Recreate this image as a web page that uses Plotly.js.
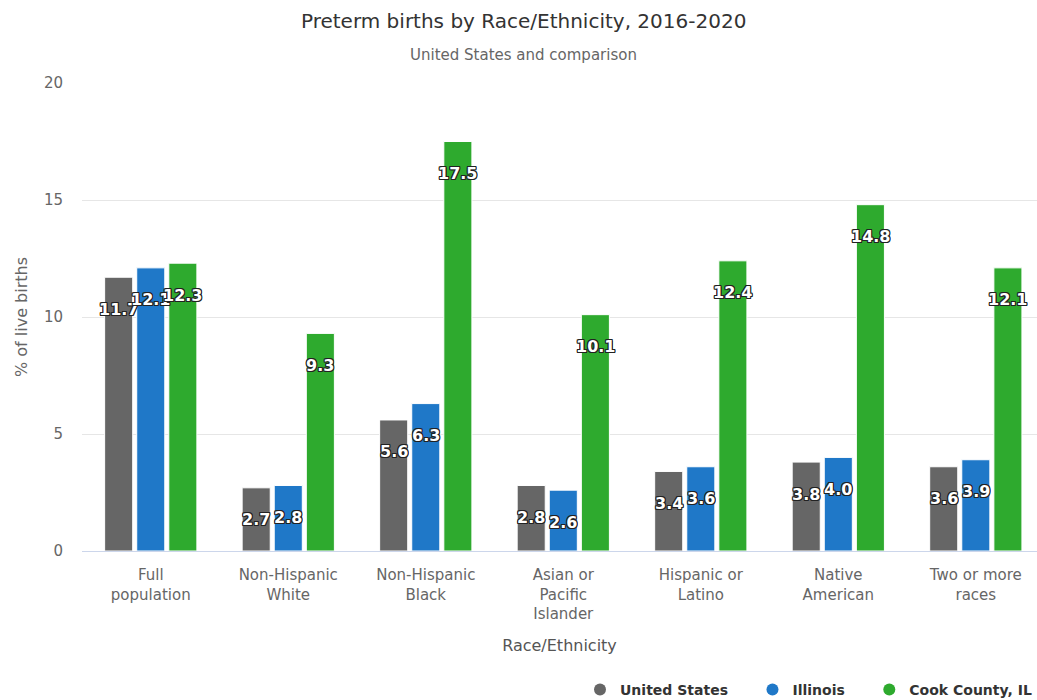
<!DOCTYPE html>
<html>
<head>
<meta charset="utf-8">
<script src="https://cdn.plot.ly/plotly-3.0.1.min.js"></script>
<style>
  html, body { margin: 0; padding: 0; background: #ffffff; }
  #chart { width: 1037px; height: 700px; }
</style>
</head>
<body>
<div id="chart"></div>
<script>
// ---- Data ----
const categories = [
  "Full<br>population",
  "Non-Hispanic<br>White",
  "Non-Hispanic<br>Black",
  "Asian or<br>Pacific<br>Islander",
  "Hispanic or<br>Latino",
  "Native<br>American",
  "Two or more<br>races"
];
const seriesNames = ["United States", "Illinois", "Cook County, IL"];
const unitedStates = [11.7, 2.7, 5.6, 2.8, 3.4, 3.8, 3.6];
const illinois     = [12.1, 2.8, 6.3, 2.6, 3.6, 4.0, 3.9];
const cookCounty   = [12.3, 9.3, 17.5, 10.1, 12.4, 14.8, 12.1];
const yTicks = [0, 5, 10, 15, 20];
const titleText = "Preterm births by Race/Ethnicity, 2016-2020";
const subtitleText = "United States and comparison";

// ---- Styles ----
const colors = ["#666666", "#1f78c8", "#2eaa2e"];
const FONT = "DejaVu Sans, Verdana, sans-serif";
const BARGAP = 0.30, GROUPGAP = 0.125;
const catPx = 137.5;               // pixel width of one category slot
const slotPx = catPx * (1 - BARGAP) / 3;
const labelDrop = -32;             // label centre below bar top (px)
const legendPad = "\u00a0\u00a0\u00a0\u00a0";
const outline = "-1px -1px 0 #222, 1px -1px 0 #222, -1px 1px 0 #222, 1px 1px 0 #222, 0 1px 0 #222, 0 -1px 0 #222, 1px 0 0 #222, -1px 0 0 #222";

const allSeries = [unitedStates, illinois, cookCounty];
const idx = categories.map((c, i) => i);

const traces = allSeries.map((vals, s) => ({
  type: "bar",
  name: seriesNames[s],
  x: idx,
  y: vals,
  marker: { color: colors[s], line: { color: "#ffffff", width: 1 } },
  showlegend: false,
  hoverinfo: "y+name"
}));
// legend entries with round symbols
seriesNames.forEach((n, s) => {
  traces.push({
    type: "scatter", mode: "markers",
    name: n + (s < seriesNames.length - 1 ? legendPad : ""),
    x: [null], y: [null],
    marker: { color: colors[s], size: 14, symbol: "circle" },
    showlegend: true, hoverinfo: "skip"
  });
});

const annotations = [];
allSeries.forEach((vals, s) => {
  vals.forEach((v, i) => {
    annotations.push({
      x: idx[i], y: v, xref: "x", yref: "y",
      xshift: (s - 1) * slotPx, yshift: labelDrop,
      text: v.toFixed(1), showarrow: false,
      xanchor: "center", yanchor: "middle",
      font: { family: FONT, size: 16, color: "#ffffff", weight: "bold", shadow: outline }
    });
  });
});
annotations.push({
  text: subtitleText, showarrow: false,
  xref: "paper", yref: "paper", x: 0.462, y: 1 + (83 - 55) / 468,
  xanchor: "center", yanchor: "middle",
  font: { family: FONT, size: 15, color: "#666666" }
});

const layout = {
  width: 1037, height: 700,
  paper_bgcolor: "#ffffff", plot_bgcolor: "#ffffff",
  font: { family: FONT, color: "#666666" },
  margin: { l: 82, r: 0, t: 83, b: 149 },
  title: {
    text: titleText,
    font: { family: FONT, size: 20, color: "#333333" },
    x: 0.505, xanchor: "center", xref: "container",
    y: 1 - 21 / 700, yanchor: "middle", yref: "container"
  },
  barmode: "group", bargap: BARGAP, bargroupgap: GROUPGAP,
  xaxis: {
    tickmode: "array", tickvals: idx, ticktext: categories,
    range: [-0.5, 6.445], automargin: false,
    tickfont: { family: FONT, size: 15, color: "#666666" },
    showgrid: false, zeroline: false,
    showline: true, linecolor: "#ccd6eb", linewidth: 1,
    ticks: "", ticklabelstandoff: 10,
    title: { text: "Race/Ethnicity", font: { family: FONT, size: 16, color: "#555555" }, standoff: 17 }
  },
  yaxis: {
    range: [0, 20], tickvals: yTicks, ticktext: yTicks.map(String),
    automargin: false,
    tickfont: { family: FONT, size: 15, color: "#666666" },
    showgrid: true, gridcolor: "#e6e6e6", gridwidth: 1,
    zeroline: false, ticks: "", ticklabelstandoff: 18,
    title: { text: "% of live births", font: { family: FONT, size: 16, color: "#666666" }, standoff: 12 }
  },
  legend: {
    orientation: "h", x: 1, xanchor: "right", xref: "container",
    y: 1 - 690 / 700, yanchor: "middle", yref: "container",
    font: { family: FONT, size: 14, color: "#333333", weight: "bold" },
    itemsizing: "constant", traceorder: "normal", itemwidth: 30
  },
  annotations: annotations,
  showlegend: true
};

Plotly.newPlot("chart", traces, layout, { displayModeBar: false, responsive: false });
</script>
</body>
</html>
